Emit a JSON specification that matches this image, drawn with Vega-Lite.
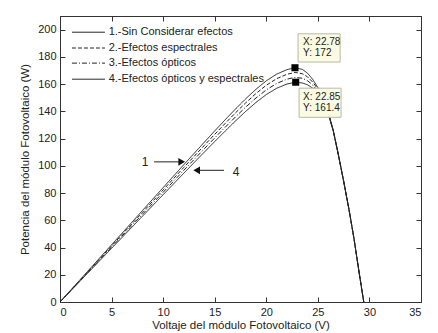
{
  "$schema": "https://vega.github.io/schema/vega-lite/v6.json",
  "width": 361,
  "height": 286,
  "autosize": {"type": "none"},
  "padding": {"left": 60, "top": 16, "right": 17, "bottom": 31},
  "background": "white",
  "config": {
    "view": {"stroke": "#333333", "strokeWidth": 1},
    "axis": {
      "grid": false,
      "domainColor": "#333333",
      "tickColor": "#333333",
      "tickSize": -5,
      "labelPadding": 9,
      "labelFont": "Liberation Sans",
      "labelFontSize": 11,
      "labelColor": "#222222",
      "titleFont": "Liberation Sans",
      "titleFontSize": 11.5,
      "titleFontWeight": "normal",
      "titleColor": "#222222"
    },
    "text": {"font": "Liberation Sans"}
  },
  "datasets": {
    "curves": [
      {"c":"1","V":0,"P":0},{"c":"1","V":1,"P":8.4},{"c":"1","V":2,"P":16.8},{"c":"1","V":3,"P":25.2},{"c":"1","V":4,"P":33.6},{"c":"1","V":5,"P":42},{"c":"1","V":6,"P":50.4},{"c":"1","V":7,"P":58.8},{"c":"1","V":8,"P":67.2},{"c":"1","V":9,"P":75.6},{"c":"1","V":10,"P":84},{"c":"1","V":11,"P":92.4},{"c":"1","V":12,"P":100.8},{"c":"1","V":13,"P":109.1},{"c":"1","V":14,"P":117.4},{"c":"1","V":15,"P":125.6},{"c":"1","V":16,"P":133.7},{"c":"1","V":17,"P":141.6},{"c":"1","V":18,"P":149.2},{"c":"1","V":19,"P":156.2},{"c":"1","V":20,"P":162.4},{"c":"1","V":21,"P":167.3},{"c":"1","V":22,"P":170.6},{"c":"1","V":22.78,"P":172},{"c":"1","V":23.5,"P":170.8},{"c":"1","V":24,"P":168},{"c":"1","V":24.5,"P":163.5},{"c":"1","V":25,"P":157.5},{"c":"1","V":25.5,"P":149.5},{"c":"1","V":26,"P":139.5},{"c":"1","V":26.5,"P":126},{"c":"1","V":27,"P":108},{"c":"1","V":27.5,"P":89},{"c":"1","V":28,"P":69},{"c":"1","V":28.5,"P":47},{"c":"1","V":29,"P":22},{"c":"1","V":29.45,"P":0},
      {"c":"2","V":0,"P":0},{"c":"2","V":1,"P":8.23},{"c":"2","V":2,"P":16.46},{"c":"2","V":3,"P":24.7},{"c":"2","V":4,"P":32.93},{"c":"2","V":5,"P":41.16},{"c":"2","V":6,"P":49.39},{"c":"2","V":7,"P":57.62},{"c":"2","V":8,"P":65.86},{"c":"2","V":9,"P":74.09},{"c":"2","V":10,"P":82.32},{"c":"2","V":11,"P":90.55},{"c":"2","V":12,"P":98.78},{"c":"2","V":13,"P":106.92},{"c":"2","V":14,"P":115.05},{"c":"2","V":15,"P":123.09},{"c":"2","V":16,"P":131.03},{"c":"2","V":17,"P":138.77},{"c":"2","V":18,"P":146.22},{"c":"2","V":19,"P":153.08},{"c":"2","V":20,"P":159.15},{"c":"2","V":21,"P":163.95},{"c":"2","V":22,"P":167.19},{"c":"2","V":22.8,"P":168.56},{"c":"2","V":23.5,"P":167.6},{"c":"2","V":24,"P":165.3},{"c":"2","V":24.5,"P":161.5},{"c":"2","V":25,"P":156.3},{"c":"2","V":25.5,"P":148.9},{"c":"2","V":26,"P":139.2},{"c":"2","V":26.5,"P":125.8},{"c":"2","V":27,"P":107.8},{"c":"2","V":27.5,"P":88.8},{"c":"2","V":28,"P":68.8},{"c":"2","V":28.5,"P":46.8},{"c":"2","V":29,"P":21.8},{"c":"2","V":29.45,"P":0},
      {"c":"3","V":0,"P":0},{"c":"3","V":1,"P":8.06},{"c":"3","V":2,"P":16.11},{"c":"3","V":3,"P":24.17},{"c":"3","V":4,"P":32.22},{"c":"3","V":5,"P":40.28},{"c":"3","V":6,"P":48.33},{"c":"3","V":7,"P":56.39},{"c":"3","V":8,"P":64.44},{"c":"3","V":9,"P":72.5},{"c":"3","V":10,"P":80.56},{"c":"3","V":11,"P":88.61},{"c":"3","V":12,"P":96.67},{"c":"3","V":13,"P":104.63},{"c":"3","V":14,"P":112.59},{"c":"3","V":15,"P":120.45},{"c":"3","V":16,"P":128.22},{"c":"3","V":17,"P":135.79},{"c":"3","V":18,"P":143.08},{"c":"3","V":19,"P":149.8},{"c":"3","V":20,"P":155.74},{"c":"3","V":21,"P":160.44},{"c":"3","V":22,"P":163.61},{"c":"3","V":22.8,"P":164.95},{"c":"3","V":23.5,"P":164.3},{"c":"3","V":24,"P":162.5},{"c":"3","V":24.5,"P":159.3},{"c":"3","V":25,"P":154.9},{"c":"3","V":25.5,"P":148.2},{"c":"3","V":26,"P":138.8},{"c":"3","V":26.5,"P":125.5},{"c":"3","V":27,"P":107.6},{"c":"3","V":27.5,"P":88.6},{"c":"3","V":28,"P":68.6},{"c":"3","V":28.5,"P":46.6},{"c":"3","V":29,"P":21.6},{"c":"3","V":29.45,"P":0},
      {"c":"4","V":0,"P":0},{"c":"4","V":1,"P":7.88},{"c":"4","V":2,"P":15.76},{"c":"4","V":3,"P":23.64},{"c":"4","V":4,"P":31.52},{"c":"4","V":5,"P":39.4},{"c":"4","V":6,"P":47.28},{"c":"4","V":7,"P":55.15},{"c":"4","V":8,"P":63.03},{"c":"4","V":9,"P":70.91},{"c":"4","V":10,"P":78.79},{"c":"4","V":11,"P":86.67},{"c":"4","V":12,"P":94.55},{"c":"4","V":13,"P":102.34},{"c":"4","V":14,"P":110.12},{"c":"4","V":15,"P":117.81},{"c":"4","V":16,"P":125.41},{"c":"4","V":17,"P":132.82},{"c":"4","V":18,"P":139.95},{"c":"4","V":19,"P":146.52},{"c":"4","V":20,"P":152.33},{"c":"4","V":21,"P":156.93},{"c":"4","V":22,"P":160.02},{"c":"4","V":22.85,"P":161.4},{"c":"4","V":23.5,"P":160.8},{"c":"4","V":24,"P":159.5},{"c":"4","V":24.5,"P":157},{"c":"4","V":25,"P":153.5},{"c":"4","V":25.5,"P":147.5},{"c":"4","V":26,"P":138.4},{"c":"4","V":26.5,"P":125.2},{"c":"4","V":27,"P":107.4},{"c":"4","V":27.5,"P":88.4},{"c":"4","V":28,"P":68.4},{"c":"4","V":28.5,"P":46.4},{"c":"4","V":29,"P":21.4},{"c":"4","V":29.45,"P":0}
    ],
    "legend": [
      {"c":"1","label":"1.-Sin Considerar efectos","x":1.16,"x2":4.36,"xt":4.72,"y":198.1},
      {"c":"2","label":"2.-Efectos espectrales","x":1.16,"x2":4.36,"xt":4.72,"y":186.5},
      {"c":"3","label":"3.-Efectos ópticos","x":1.16,"x2":4.36,"xt":4.72,"y":175.4},
      {"c":"4","label":"4.-Efectos ópticos y espectrales","x":1.16,"x2":4.36,"xt":4.72,"y":163.6}
    ],
    "tips": [
      {"V":22.78,"P":172,"bx":23.08,"bx2":27.16,"by":176.2,"by2":196.9},
      {"V":22.85,"P":161.4,"bx":23.18,"bx2":27.25,"by":135.6,"by2":157.0}
    ],
    "tiptext": [
      {"x":23.57,"y":190.9,"t":"X: 22.78"},
      {"x":23.57,"y":182.8,"t":"Y: 172"},
      {"x":23.57,"y":150.7,"t":"X: 22.85"},
      {"x":23.57,"y":142.4,"t":"Y: 161.4"}
    ],
    "arrows": [
      {"n":"1","x":9.12,"x2":11.8,"y":102.9,"tx":8.24,"ty":103},
      {"n":"4","x":15.9,"x2":13.25,"y":96.7,"tx":17.07,"ty":95.7}
    ]
  },
  "layer": [
    {
      "data": {"name": "curves"},
      "mark": {"type": "line", "strokeWidth": 1, "color": "#222222", "clip": true},
      "encoding": {
        "x": {"field": "V", "type": "quantitative", "scale": {"domain": [0, 35], "nice": false},
              "axis": {"orient": "bottom", "values": [0,5,10,15,20,25,30,35], "title": "Voltaje del módulo Fotovoltaico (V)", "titlePadding": 2}},
        "y": {"field": "P", "type": "quantitative", "scale": {"domain": [0, 210], "nice": false},
              "axis": {"orient": "left", "values": [0,20,40,60,80,100,120,140,160,180,200], "title": "Potencia del módulo Fotovoltaico (W)", "titlePadding": 7}},
        "strokeDash": {"field": "c", "type": "nominal", "scale": {"domain": ["1","2","3","4"], "range": [[1,0],[4,2],[5,2,1,2],[1,0]]}, "legend": null},
        "detail": {"field": "c"}
      }
    },
    {
      "data": {"name": "legend"},
      "mark": {"type": "rule", "strokeWidth": 1, "color": "#222222"},
      "encoding": {
        "x": {"field": "x", "type": "quantitative", "scale": {"domain": [0, 35], "nice": false}, "axis": null},
        "x2": {"field": "x2"},
        "y": {"field": "y", "type": "quantitative", "scale": {"domain": [0, 210], "nice": false}, "axis": null},
        "strokeDash": {"field": "c", "type": "nominal", "scale": {"domain": ["1","2","3","4"], "range": [[1,0],[4,2],[5,2,1,2],[1,0]]}, "legend": null}
      }
    },
    {
      "data": {"name": "legend"},
      "mark": {"type": "text", "align": "left", "baseline": "middle", "fontSize": 11, "color": "#222222"},
      "encoding": {
        "x": {"field": "xt", "type": "quantitative", "scale": {"domain": [0, 35], "nice": false}, "axis": null},
        "y": {"field": "y", "type": "quantitative", "scale": {"domain": [0, 210], "nice": false}, "axis": null},
        "text": {"field": "label"}
      }
    },
    {
      "data": {"name": "tips"},
      "mark": {"type": "rect", "fill": "#fbfbe3", "stroke": "#b8b8a8", "strokeWidth": 1},
      "encoding": {
        "x": {"field": "bx", "type": "quantitative", "scale": {"domain": [0, 35], "nice": false}, "axis": null},
        "x2": {"field": "bx2"},
        "y": {"field": "by", "type": "quantitative", "scale": {"domain": [0, 210], "nice": false}, "axis": null},
        "y2": {"field": "by2"}
      }
    },
    {
      "data": {"name": "tiptext"},
      "mark": {"type": "text", "align": "left", "baseline": "middle", "fontSize": 10, "color": "#222222"},
      "encoding": {
        "x": {"field": "x", "type": "quantitative", "scale": {"domain": [0, 35], "nice": false}, "axis": null},
        "y": {"field": "y", "type": "quantitative", "scale": {"domain": [0, 210], "nice": false}, "axis": null},
        "text": {"field": "t"}
      }
    },
    {
      "data": {"name": "arrows"},
      "mark": {"type": "rule", "strokeWidth": 1, "color": "#222222"},
      "encoding": {
        "x": {"field": "x", "type": "quantitative", "scale": {"domain": [0, 35], "nice": false}, "axis": null},
        "x2": {"field": "x2"},
        "y": {"field": "y", "type": "quantitative", "scale": {"domain": [0, 210], "nice": false}, "axis": null}
      }
    },
    {
      "data": {"name": "arrows"},
      "transform": [{"filter": "datum.n == '1'"}],
      "mark": {"type": "point", "shape": "triangle-right", "filled": true, "size": 60, "color": "#111111", "opacity": 1},
      "encoding": {
        "x": {"field": "x2", "type": "quantitative", "scale": {"domain": [0, 35], "nice": false}, "axis": null},
        "y": {"field": "y", "type": "quantitative", "scale": {"domain": [0, 210], "nice": false}, "axis": null}
      }
    },
    {
      "data": {"name": "arrows"},
      "transform": [{"filter": "datum.n == '4'"}],
      "mark": {"type": "point", "shape": "triangle-left", "filled": true, "size": 60, "color": "#111111", "opacity": 1},
      "encoding": {
        "x": {"field": "x2", "type": "quantitative", "scale": {"domain": [0, 35], "nice": false}, "axis": null},
        "y": {"field": "y", "type": "quantitative", "scale": {"domain": [0, 210], "nice": false}, "axis": null}
      }
    },
    {
      "data": {"name": "arrows"},
      "mark": {"type": "text", "align": "center", "baseline": "middle", "fontSize": 12, "color": "#222222"},
      "encoding": {
        "x": {"field": "tx", "type": "quantitative", "scale": {"domain": [0, 35], "nice": false}, "axis": null},
        "y": {"field": "ty", "type": "quantitative", "scale": {"domain": [0, 210], "nice": false}, "axis": null},
        "text": {"field": "n"}
      }
    },
    {
      "data": {"name": "tips"},
      "mark": {"type": "square", "filled": true, "size": 50, "color": "#000000", "opacity": 1},
      "encoding": {
        "x": {"field": "V", "type": "quantitative", "scale": {"domain": [0, 35], "nice": false},
              "axis": {"orient": "top", "values": [0,5,10,15,20,25,30,35], "labels": false, "title": null}},
        "y": {"field": "P", "type": "quantitative", "scale": {"domain": [0, 210], "nice": false},
              "axis": {"orient": "right", "values": [0,20,40,60,80,100,120,140,160,180,200], "labels": false, "title": null}}
      }
    }
  ],
  "resolve": {"axis": {"x": "independent", "y": "independent"}}
}
